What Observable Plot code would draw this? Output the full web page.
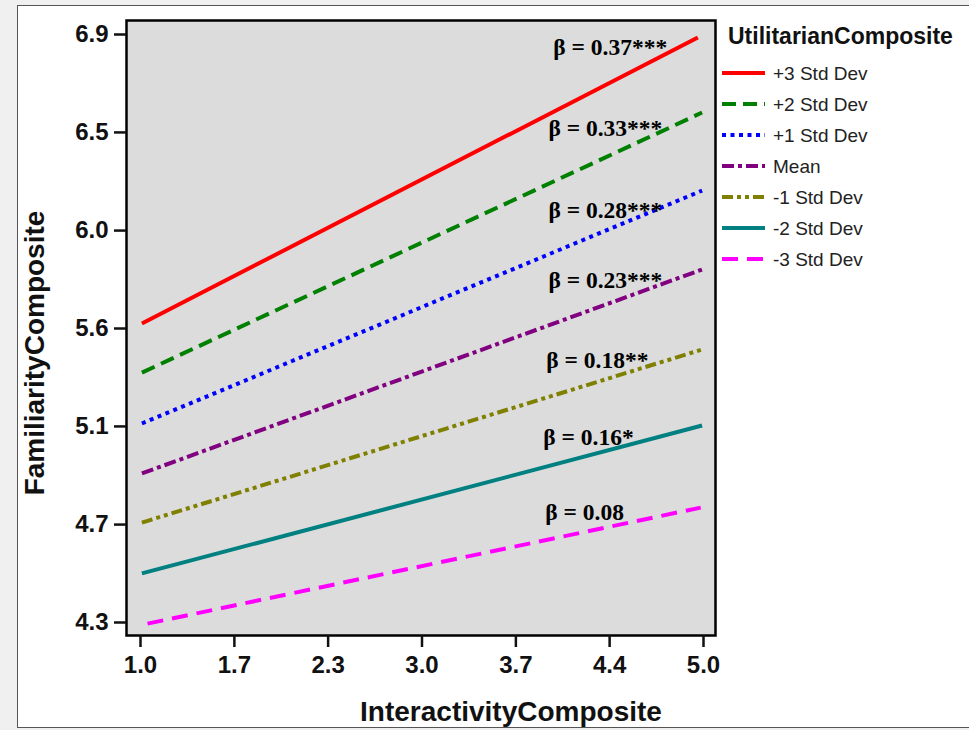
<!DOCTYPE html>
<html><head><meta charset="utf-8">
<script src="https://cdn.jsdelivr.net/npm/d3@7"></script>
<script src="https://cdn.jsdelivr.net/npm/@observablehq/plot@0.6"></script>
<style>
html,body{margin:0;padding:0;background:#f0f0f0;width:969px;height:730px;overflow:hidden;}
#panel{position:absolute;left:17px;top:5px;width:970px;height:721px;background:#fff;border:1.5px solid #555;}
#chart{position:absolute;left:0;top:0;}
</style></head><body>
<div id="panel"></div>
<div id="chart"></div>
<script>
// ---- data ----
const series = ["+3 Std Dev", "+2 Std Dev", "+1 Std Dev", "Mean", "-1 Std Dev", "-2 Std Dev", "-3 Std Dev"];
const colors = ["#ff0000", "#008000", "#0000ff", "#800080", "#808000", "#008080", "#ff00ff"];
const dashes = ["none", "14,7", "4,4.5", "12,4,4,4", "11,4,4,4,4,4", "none", "16,9"];
const xStart = [1.01, 1.01, 1.01, 1.01, 1.01, 1.01, 1.05];
const xEnd   = [4.96, 4.99, 4.99, 4.99, 4.99, 4.99, 4.98];
const yStart = [5.622, 5.405, 5.180, 4.959, 4.742, 4.517, 4.295];
const yEnd   = [6.887, 6.555, 6.210, 5.861, 5.507, 5.171, 4.808];
const betaLabels = ["β = 0.37***", "β = 0.33***", "β = 0.28***", "β = 0.23***", "β = 0.18**", "β = 0.16*", "β = 0.08"];
const labelX = [3.933, 3.898, 3.898, 3.898, 3.883, 3.862, 3.876];
const labelY = [6.843, 6.484, 6.122, 5.812, 5.458, 5.118, 4.786];
const xTickValues = [1, 1.667, 2.333, 3, 3.667, 4.333, 5];
const xTickLabels = ["1.0", "1.7", "2.3", "3.0", "3.7", "4.4", "5.0"];
const yTickValues = [4.3, 4.733, 5.167, 5.6, 6.033, 6.467, 6.9];
const yTickLabels = ["4.3", "4.7", "5.1", "5.6", "6.0", "6.5", "6.9"];
const xTitle = "InteractivityComposite";
const yTitle = "FamiliarityComposite";
const legendTitle = "UtilitarianComposite";

const rows = series.flatMap((s, i) => [
  {series: s, x: xStart[i], y: yStart[i]},
  {series: s, x: xEnd[i], y: yEnd[i]}
]);
const labels = betaLabels.map((t, i) => ({text: t, x: labelX[i], y: labelY[i]}));

const sans = "'Liberation Sans', Arial, Helvetica, sans-serif";
const serif = "'Liberation Serif', 'Times New Roman', serif";

const W = 969, H = 730;
const chart = Plot.plot({
  width: W, height: H,
  marginLeft: 126, marginRight: W - 715, marginTop: 20, marginBottom: H - 635,
  style: {fontFamily: sans, background: "transparent", overflow: "visible", color: "#111"},
  x: {domain: [1, 5], insetLeft: 14, insetRight: 12},
  y: {domain: [4.3, 6.9], insetTop: 14, insetBottom: 13},
  color: {domain: series, range: colors},
  marks: [
    Plot.frame({fill: "#dcdcdc"}),
    ...series.map((s, i) => Plot.line(rows.filter(r => r.series === s), {
      x: "x", y: "y", stroke: "series", strokeWidth: 4,
      strokeDasharray: dashes[i] === "none" ? null : dashes[i], strokeLinecap: "butt"
    })),
    Plot.text(labels, {x: "x", y: "y", text: "text", textAnchor: "start", lineAnchor: "middle",
      fontFamily: serif, fontWeight: "bold", fontSize: 23.5, fill: "black"}),
    Plot.frame({stroke: "black", strokeWidth: 2.5}),
    Plot.axisX({ticks: xTickValues, tickFormat: d => xTickLabels[xTickValues.indexOf(d)],
      tickSize: 12, tickPadding: 8, fontSize: 24, fontWeight: "bold", strokeWidth: 2.5, label: null}),
    Plot.axisY({ticks: yTickValues, tickFormat: d => yTickLabels[yTickValues.indexOf(d)],
      tickSize: 12, tickPadding: 6, fontSize: 24, fontWeight: "bold", strokeWidth: 2.5, label: null}),
    Plot.text([xTitle], {frameAnchor: "bottom", dx: 90, dy: 77, lineAnchor: "middle", textAnchor: "middle",
      fontSize: 28, fontWeight: "bold", fill: "#111"}),
    Plot.text([yTitle], {frameAnchor: "left", dx: -91, dy: 25, rotate: -90, lineAnchor: "middle", textAnchor: "middle",
      fontSize: 28, fontWeight: "bold", fill: "#111"})
  ]
});
document.getElementById("chart").appendChild(chart);

// ---- legend ----
const svg = d3.select(chart);
const lg = svg.append("g").attr("font-family", sans).attr("text-anchor", "start");
lg.append("text").attr("x", 728).attr("y", 44).attr("font-size", 23).attr("font-weight", "bold")
  .attr("text-anchor", "start").attr("fill", "#111").text(legendTitle);
series.forEach((s, i) => {
  const yy = 73 + 31 * i;
  lg.append("line").attr("x1", 722).attr("x2", 765).attr("y1", yy).attr("y2", yy)
    .attr("stroke", colors[i]).attr("stroke-width", 4)
    .attr("stroke-dasharray", dashes[i] === "none" ? null : dashes[i]);
  lg.append("text").attr("x", 773).attr("y", yy + 6.5).attr("font-size", 19)
    .attr("text-anchor", "start").attr("fill", "#222").text(s);
});
</script>
</body></html>
